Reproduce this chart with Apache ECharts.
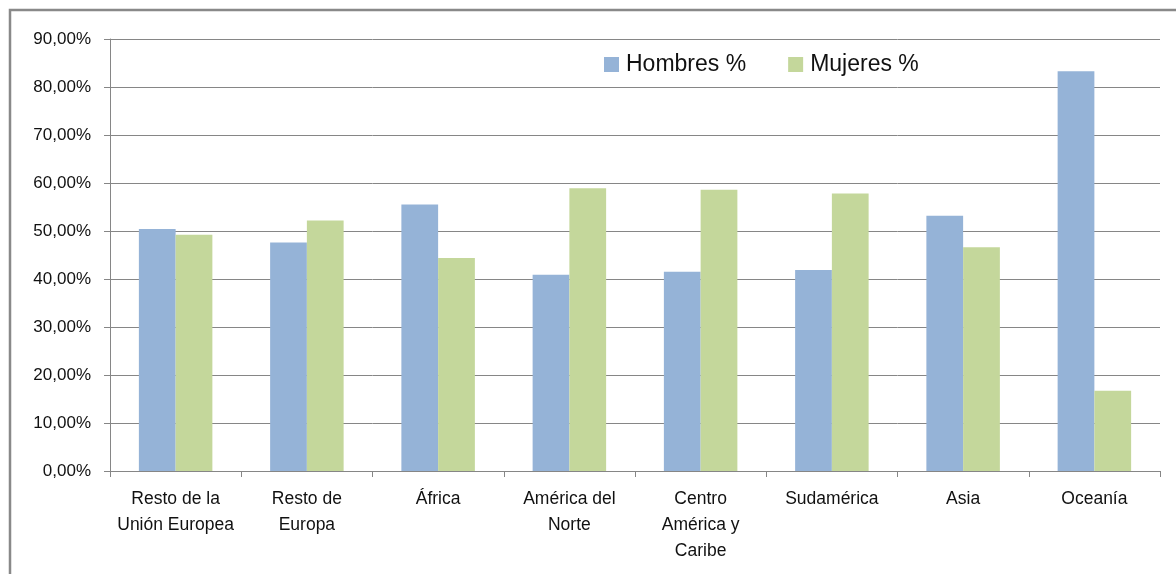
<!DOCTYPE html>
<html><head><meta charset="utf-8">
<script src="https://cdn.jsdelivr.net/npm/echarts@6/dist/echarts.min.js"></script>
<style>html,body{margin:0;padding:0;background:#fff}#c{width:1176px;height:574px}</style>
</head><body><div id="c"></div>
<script>
const categories = ["Resto de la\nUnión Europea","Resto de\nEuropa","África","América del\nNorte","Centro\nAmérica y\nCaribe","Sudamérica","Asia","Oceanía"];
const hombres = [50.4, 47.6, 55.5, 40.9, 41.5, 41.9, 53.2, 83.3];
const mujeres = [49.2, 52.2, 44.4, 58.9, 58.6, 57.8, 46.6, 16.7];
const seriesNames = ["Hombres %","Mujeres %"];
const FONT = "Liberation Sans";
const chart = echarts.init(document.getElementById('c'), null, {renderer:'canvas'});
chart.setOption({
  animation:false,
  textStyle:{fontFamily:FONT},
  graphic:[{type:'rect',shape:{x:10,y:10,width:1200,height:600},style:{fill:'none',stroke:'#898989',lineWidth:2.5},silent:true}],
  grid:{left:110,top:39,right:16,bottom:103,containLabel:false},
  legend:{left:599,top:48,itemWidth:15,itemHeight:15,itemGap:42,icon:'rect',
    textStyle:{fontFamily:FONT,fontSize:23,color:'#111',padding:[0,0,0,2]},data:seriesNames},
  xAxis:{type:'category',data:categories,
    axisLine:{lineStyle:{color:'#868686',width:1}},
    axisTick:{show:true,length:6,lineStyle:{color:'#868686'}},
    axisLabel:{fontFamily:FONT,fontSize:17.5,color:'#111',lineHeight:26,margin:15,interval:0}},
  yAxis:{type:'value',min:0,max:90,interval:10,
    axisLine:{show:true,lineStyle:{color:'#868686'}},
    axisTick:{show:true,length:6,lineStyle:{color:'#868686'}},
    splitLine:{lineStyle:{color:'#868686',width:1}},
    axisLabel:{fontFamily:FONT,fontSize:17,color:'#111',margin:19,
      formatter:v=>v.toFixed(2).replace('.',',')+'%'}},
  series:[
    {name:seriesNames[0],type:'bar',data:hombres,itemStyle:{color:'#95B3D7'},barGap:'0%',barCategoryGap:'44%'},
    {name:seriesNames[1],type:'bar',data:mujeres,itemStyle:{color:'#C4D79B'},barGap:'0%',barCategoryGap:'44%'}
  ]
});
</script></body></html>
